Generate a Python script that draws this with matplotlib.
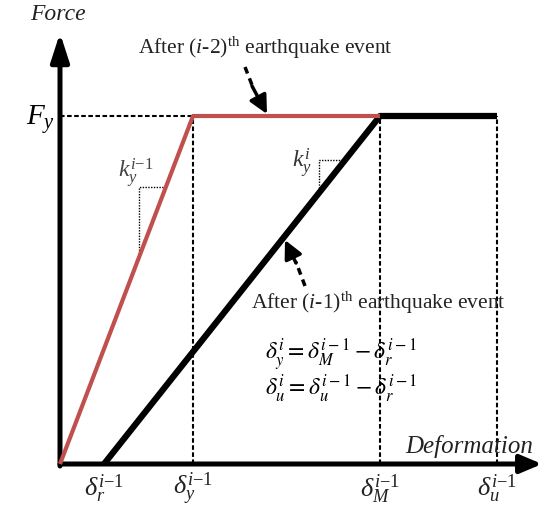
import numpy as np
import matplotlib
matplotlib.use('Agg')
import matplotlib.pyplot as plt

plt.rcParams['font.family'] = ['Liberation Serif', 'DejaVu Serif']
plt.rcParams['mathtext.fontset'] = 'custom'
plt.rcParams['mathtext.rm'] = 'Liberation Serif'
plt.rcParams['mathtext.it'] = 'Liberation Serif:italic'

# characteristic deformations / force (arbitrary units)
Fy = 348.0
delta_r = 44.0
delta_y = 133.0
delta_M = 320.0
delta_u = 437.0

# backbone curves
red_x = [0.0, delta_y, delta_M]
red_y = [0.0, Fy, Fy]
blk_x = [delta_r, delta_M, delta_u]
blk_y = [0.0, Fy, Fy]

tick_pos = [delta_r, delta_y, delta_M, delta_u]
tick_lab = [r'$\delta_r^{i\mathrm{-}1}$', r'$\delta_y^{i\mathrm{-}1}$',
            r'$\delta_M^{i\mathrm{-}1}$', r'$\delta_u^{i\mathrm{-}1}$']

red = '#C0504D'
dash = (0, (2.2, 1.2))

fig = plt.figure(figsize=(5.43, 5.10), dpi=100)
ax = fig.add_axes([0, 0, 1, 1])
ax.set_xlim(-60, 483)
ax.set_ylim(-45, 465)
ax.axis('off')

# axes with arrows
ax.annotate('', xy=(482, 0), xytext=(0, 0),
            arrowprops=dict(arrowstyle='-|>,head_length=1.3,head_width=0.55',
                            lw=3.6, color='black', shrinkA=0, shrinkB=0))
ax.annotate('', xy=(0, 431), xytext=(0, -2),
            arrowprops=dict(arrowstyle='-|>,head_length=1.7,head_width=0.55',
                            lw=3.6, color='black', shrinkA=0, shrinkB=0))

# guide lines
ax.plot([0, delta_y], [Fy, Fy], color='black', lw=1.5, ls=dash)
for xv in [delta_y, delta_M, delta_u]:
    ax.plot([xv, xv], [0, Fy], color='black', lw=1.5, ls=dash)

# curves
ax.plot(blk_x, blk_y, color='black', lw=4.5, solid_capstyle='butt', zorder=4)
ax.plot(red_x, red_y, color=red, lw=3.0, solid_capstyle='butt', zorder=5)

# slope triangles
s_red = Fy / delta_y
ya, yb = 208, 277
ax.plot([ya / s_red, ya / s_red, yb / s_red], [ya, yb, yb], color='black', lw=1.0, ls=(0, (1, 1)))
s_blk = Fy / (delta_M - delta_r)
ya, yb = 276, 304
ax.plot([delta_r + ya / s_blk - 4, delta_r + ya / s_blk - 4, delta_r + yb / s_blk + 2], [ya, yb, yb],
        color='black', lw=1.0, ls=(0, (1, 1)))
ax.text(58, 275, r'$k_y^{i\mathrm{-}1}$', fontsize=17, color='#444444', ha='left', va='bottom')
ax.text(232, 285, r'$k_y^{i}$', fontsize=17, color='#333333', ha='left', va='bottom')

# axis labels
ax.text(-30, 450, 'Force', fontsize=17, style='italic', ha='left', va='center', color='#222222')
ax.text(473, 18, 'Deformation', fontsize=18, style='italic', ha='right', va='center', color='#222222')
ax.text(-34, 345, r'$F_y$', fontsize=21, ha='left', va='center')
for xp, lab in zip(tick_pos, tick_lab):
    ax.text(xp, -24, lab, fontsize=19, ha='center', va='center', color='#222222')

# annotations
ax.text(205, 417, r'After ($i$-2)$^{\mathrm{th}}$ earthquake event', fontsize=15.5,
        ha='center', va='center', color='#222222')
ax.plot([185, 192], [397, 379], color='black', lw=2.5, ls=(0, (2, 1.5)))
ax.annotate('', xy=(207, 350), xytext=(192, 378),
            arrowprops=dict(arrowstyle='-|>,head_length=1.1,head_width=0.55',
                            lw=2.5, color='black', shrinkA=0, shrinkB=0))

ax.text(318, 162, r'After ($i$-1)$^{\mathrm{th}}$ earthquake event', fontsize=15.5,
        ha='center', va='center', color='#222222')
ax.plot([245, 236], [178, 202], color='black', lw=2.5, ls=(0, (2, 1.5)))
ax.annotate('', xy=(225, 224), xytext=(236, 201),
            arrowprops=dict(arrowstyle='-|>,head_length=1.1,head_width=0.55',
                            lw=2.5, color='black', shrinkA=0, shrinkB=0))

# formulas
ax.text(205, 94, r'$\delta_y^i = \delta_M^{i-1} - \delta_r^{i-1}$' + '\n' +
        r'$\delta_u^i = \delta_u^{i-1} - \delta_r^{i-1}$', fontsize=17,
        math_fontfamily='stix', ha='left', va='center', linespacing=1.0)

fig.savefig('out.png', dpi=100)
